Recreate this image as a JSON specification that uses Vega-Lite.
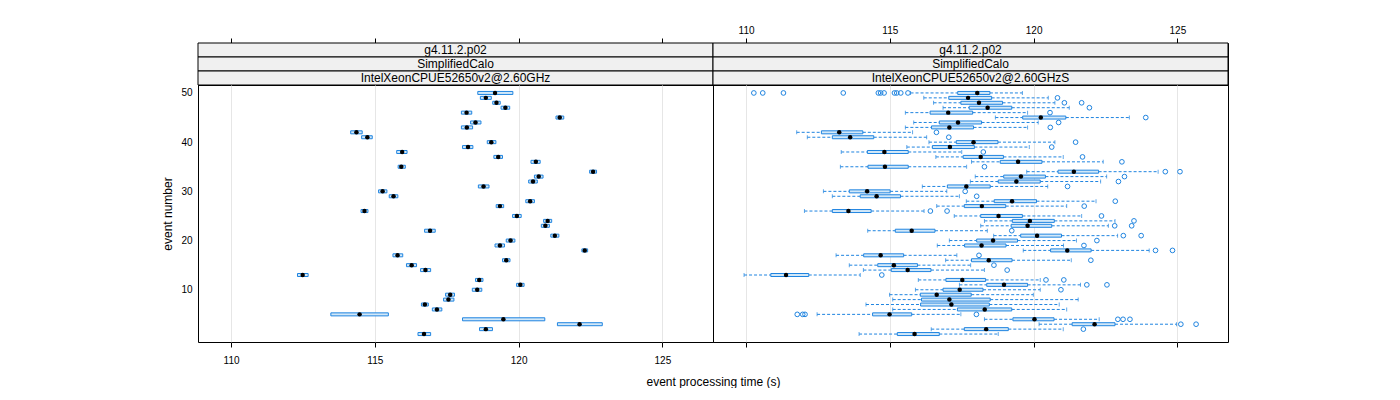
{
  "$schema": "https://vega.github.io/schema/vega-lite/v6.json",
  "padding": {"left": 161, "top": 24, "right": 0, "bottom": 0},
  "background": "white",
  "bounds": "flush",
  "spacing": 0,
  "config": {
    "font": "Liberation Sans",
    "view": {"stroke": "black", "strokeWidth": 1},
    "concat": {"spacing": 0},
    "axis": {"labelFont": "Liberation Sans", "titleFont": "Liberation Sans", "labelFontSize": 10, "titleFontSize": 12, "titleFontWeight": "normal", "labelColor": "black", "titleColor": "black", "tickColor": "black", "domain": false}
  },
  "datasets": {
    "strips": [
      {"panel": "L", "level": 1, "label": "g4.11.2.p02"},
      {"panel": "R", "level": 1, "label": "g4.11.2.p02"},
      {"panel": "L", "level": 2, "label": "SimplifiedCalo"},
      {"panel": "R", "level": 2, "label": "SimplifiedCalo"},
      {"panel": "L", "level": 3, "label": "IntelXeonCPUE52650v2@2.60GHz"},
      {"panel": "R", "level": 3, "label": "IntelXeonCPUE52650v2@2.60GHzS"}
    ],
    "statsL": [
      {"event": 50, "lo": 118.58, "q1": 118.58, "med": 119.18, "q3": 119.80, "hi": 119.80},
      {"event": 49, "lo": 118.67, "q1": 118.67, "med": 118.86, "q3": 119.05, "hi": 119.05},
      {"event": 48, "lo": 119.10, "q1": 119.10, "med": 119.23, "q3": 119.36, "hi": 119.36},
      {"event": 47, "lo": 119.39, "q1": 119.39, "med": 119.54, "q3": 119.69, "hi": 119.69},
      {"event": 46, "lo": 118.01, "q1": 118.01, "med": 118.19, "q3": 118.37, "hi": 118.37},
      {"event": 45, "lo": 121.30, "q1": 121.30, "med": 121.43, "q3": 121.57, "hi": 121.57},
      {"event": 44, "lo": 118.33, "q1": 118.33, "med": 118.50, "q3": 118.69, "hi": 118.69},
      {"event": 43, "lo": 118.01, "q1": 118.01, "med": 118.20, "q3": 118.40, "hi": 118.40},
      {"event": 42, "lo": 114.16, "q1": 114.16, "med": 114.36, "q3": 114.56, "hi": 114.56},
      {"event": 41, "lo": 114.54, "q1": 114.54, "med": 114.74, "q3": 114.91, "hi": 114.91},
      {"event": 40, "lo": 118.91, "q1": 118.91, "med": 119.05, "q3": 119.21, "hi": 119.21},
      {"event": 39, "lo": 118.05, "q1": 118.05, "med": 118.24, "q3": 118.41, "hi": 118.41},
      {"event": 38, "lo": 115.76, "q1": 115.76, "med": 115.95, "q3": 116.12, "hi": 116.12},
      {"event": 37, "lo": 119.14, "q1": 119.14, "med": 119.29, "q3": 119.44, "hi": 119.44},
      {"event": 36, "lo": 120.43, "q1": 120.43, "med": 120.60, "q3": 120.75, "hi": 120.75},
      {"event": 35, "lo": 115.81, "q1": 115.81, "med": 115.92, "q3": 116.06, "hi": 116.06},
      {"event": 34, "lo": 122.47, "q1": 122.47, "med": 122.59, "q3": 122.71, "hi": 122.71},
      {"event": 33, "lo": 120.55, "q1": 120.55, "med": 120.70, "q3": 120.85, "hi": 120.85},
      {"event": 32, "lo": 120.35, "q1": 120.35, "med": 120.50, "q3": 120.65, "hi": 120.65},
      {"event": 31, "lo": 118.60, "q1": 118.60, "med": 118.78, "q3": 118.97, "hi": 118.97},
      {"event": 30, "lo": 115.13, "q1": 115.13, "med": 115.27, "q3": 115.42, "hi": 115.42},
      {"event": 29, "lo": 115.50, "q1": 115.50, "med": 115.65, "q3": 115.80, "hi": 115.80},
      {"event": 28, "lo": 120.25, "q1": 120.25, "med": 120.40, "q3": 120.55, "hi": 120.55},
      {"event": 27, "lo": 119.22, "q1": 119.22, "med": 119.35, "q3": 119.48, "hi": 119.48},
      {"event": 26, "lo": 114.52, "q1": 114.52, "med": 114.64, "q3": 114.76, "hi": 114.76},
      {"event": 25, "lo": 119.79, "q1": 119.79, "med": 119.94, "q3": 120.09, "hi": 120.09},
      {"event": 24, "lo": 120.87, "q1": 120.87, "med": 121.01, "q3": 121.15, "hi": 121.15},
      {"event": 23, "lo": 120.79, "q1": 120.79, "med": 120.93, "q3": 121.07, "hi": 121.07},
      {"event": 22, "lo": 116.73, "q1": 116.73, "med": 116.92, "q3": 117.10, "hi": 117.10},
      {"event": 21, "lo": 121.12, "q1": 121.12, "med": 121.26, "q3": 121.40, "hi": 121.40},
      {"event": 20, "lo": 119.57, "q1": 119.57, "med": 119.72, "q3": 119.87, "hi": 119.87},
      {"event": 19, "lo": 119.18, "q1": 119.18, "med": 119.35, "q3": 119.51, "hi": 119.51},
      {"event": 18, "lo": 122.20, "q1": 122.20, "med": 122.30, "q3": 122.40, "hi": 122.40},
      {"event": 17, "lo": 115.63, "q1": 115.63, "med": 115.79, "q3": 115.97, "hi": 115.97},
      {"event": 16, "lo": 119.44, "q1": 119.44, "med": 119.57, "q3": 119.70, "hi": 119.70},
      {"event": 15, "lo": 116.10, "q1": 116.10, "med": 116.28, "q3": 116.45, "hi": 116.45},
      {"event": 14, "lo": 116.59, "q1": 116.59, "med": 116.76, "q3": 116.94, "hi": 116.94},
      {"event": 13, "lo": 112.31, "q1": 112.31, "med": 112.49, "q3": 112.68, "hi": 112.68},
      {"event": 12, "lo": 118.50, "q1": 118.50, "med": 118.63, "q3": 118.76, "hi": 118.76},
      {"event": 11, "lo": 119.93, "q1": 119.93, "med": 120.06, "q3": 120.19, "hi": 120.19},
      {"event": 10, "lo": 118.39, "q1": 118.39, "med": 118.56, "q3": 118.72, "hi": 118.72},
      {"event": 9, "lo": 117.46, "q1": 117.46, "med": 117.62, "q3": 117.77, "hi": 117.77},
      {"event": 8, "lo": 117.39, "q1": 117.39, "med": 117.56, "q3": 117.75, "hi": 117.75},
      {"event": 7, "lo": 116.62, "q1": 116.62, "med": 116.74, "q3": 116.86, "hi": 116.86},
      {"event": 6, "lo": 117.00, "q1": 117.00, "med": 117.16, "q3": 117.33, "hi": 117.33},
      {"event": 5, "lo": 113.47, "q1": 113.47, "med": 114.47, "q3": 115.47, "hi": 115.47},
      {"event": 4, "lo": 118.05, "q1": 118.05, "med": 119.47, "q3": 120.91, "hi": 120.91},
      {"event": 3, "lo": 121.35, "q1": 121.35, "med": 122.12, "q3": 122.91, "hi": 122.91},
      {"event": 2, "lo": 118.64, "q1": 118.64, "med": 118.86, "q3": 119.09, "hi": 119.09},
      {"event": 1, "lo": 116.50, "q1": 116.50, "med": 116.71, "q3": 116.94, "hi": 116.94}
    ],
    "statsR": [
      {"event": 50, "lo": 115.72, "q1": 117.36, "med": 118.04, "q3": 118.48, "hi": 119.61},
      {"event": 49, "lo": 116.18, "q1": 117.05, "med": 117.72, "q3": 118.54, "hi": 120.51},
      {"event": 48, "lo": 116.52, "q1": 117.47, "med": 118.10, "q3": 118.92, "hi": 120.74},
      {"event": 47, "lo": 116.85, "q1": 117.76, "med": 118.40, "q3": 119.24, "hi": 121.24},
      {"event": 46, "lo": 115.54, "q1": 116.40, "med": 117.03, "q3": 117.88, "hi": 119.79},
      {"event": 45, "lo": 118.67, "q1": 119.62, "med": 120.25, "q3": 121.12, "hi": 123.33},
      {"event": 44, "lo": 115.83, "q1": 116.72, "med": 117.37, "q3": 118.19, "hi": 120.16},
      {"event": 43, "lo": 115.54, "q1": 116.45, "med": 117.07, "q3": 117.91, "hi": 119.79},
      {"event": 42, "lo": 111.76, "q1": 112.62, "med": 113.24, "q3": 114.06, "hi": 115.79},
      {"event": 41, "lo": 112.13, "q1": 113.00, "med": 113.62, "q3": 114.44, "hi": 116.28},
      {"event": 40, "lo": 116.36, "q1": 117.31, "med": 117.91, "q3": 118.76, "hi": 120.74},
      {"event": 39, "lo": 115.59, "q1": 116.48, "med": 117.09, "q3": 117.94, "hi": 119.85},
      {"event": 38, "lo": 113.31, "q1": 114.22, "med": 114.81, "q3": 115.64, "hi": 117.50},
      {"event": 37, "lo": 116.60, "q1": 117.55, "med": 118.16, "q3": 118.95, "hi": 121.03},
      {"event": 36, "lo": 117.84, "q1": 118.84, "med": 119.46, "q3": 120.29, "hi": 122.42},
      {"event": 35, "lo": 113.28, "q1": 114.24, "med": 114.83, "q3": 115.64, "hi": 117.67},
      {"event": 34, "lo": 119.76, "q1": 120.85, "med": 121.40, "q3": 122.26, "hi": 124.33},
      {"event": 33, "lo": 117.97, "q1": 118.96, "med": 119.56, "q3": 120.41, "hi": 122.54},
      {"event": 32, "lo": 117.80, "q1": 118.77, "med": 119.40, "q3": 120.23, "hi": 122.33},
      {"event": 31, "lo": 116.13, "q1": 117.00, "med": 117.66, "q3": 118.49, "hi": 120.49},
      {"event": 30, "lo": 112.69, "q1": 113.59, "med": 114.21, "q3": 115.01, "hi": 116.98},
      {"event": 29, "lo": 113.00, "q1": 113.97, "med": 114.54, "q3": 115.37, "hi": 117.42},
      {"event": 28, "lo": 117.66, "q1": 118.63, "med": 119.25, "q3": 120.10, "hi": 122.17},
      {"event": 27, "lo": 116.63, "q1": 117.59, "med": 118.20, "q3": 119.03, "hi": 121.15},
      {"event": 26, "lo": 112.03, "q1": 113.00, "med": 113.56, "q3": 114.35, "hi": 116.19},
      {"event": 25, "lo": 117.24, "q1": 118.16, "med": 118.78, "q3": 119.61, "hi": 121.67},
      {"event": 24, "lo": 118.29, "q1": 119.26, "med": 119.87, "q3": 120.72, "hi": 122.83},
      {"event": 23, "lo": 118.16, "q1": 119.22, "med": 119.79, "q3": 120.63, "hi": 122.60},
      {"event": 22, "lo": 114.23, "q1": 115.19, "med": 115.76, "q3": 116.57, "hi": 118.39},
      {"event": 21, "lo": 118.61, "q1": 119.55, "med": 120.12, "q3": 120.97, "hi": 122.92},
      {"event": 20, "lo": 117.07, "q1": 118.02, "med": 118.59, "q3": 119.44, "hi": 121.49},
      {"event": 19, "lo": 116.65, "q1": 117.60, "med": 118.19, "q3": 119.04, "hi": 121.04},
      {"event": 18, "lo": 119.64, "q1": 120.59, "med": 121.17, "q3": 122.00, "hi": 124.02},
      {"event": 17, "lo": 113.13, "q1": 114.09, "med": 114.68, "q3": 115.48, "hi": 117.33},
      {"event": 16, "lo": 116.94, "q1": 117.84, "med": 118.44, "q3": 119.25, "hi": 121.31},
      {"event": 15, "lo": 113.59, "q1": 114.58, "med": 115.14, "q3": 115.96, "hi": 117.81},
      {"event": 14, "lo": 114.08, "q1": 115.05, "med": 115.62, "q3": 116.43, "hi": 118.29},
      {"event": 13, "lo": 109.93, "q1": 110.86, "med": 111.39, "q3": 112.18, "hi": 113.97},
      {"event": 12, "lo": 115.99, "q1": 116.95, "med": 117.52, "q3": 118.33, "hi": 120.23},
      {"event": 11, "lo": 117.42, "q1": 118.37, "med": 118.97, "q3": 119.79, "hi": 121.63},
      {"event": 10, "lo": 115.89, "q1": 116.85, "med": 117.43, "q3": 118.24, "hi": 120.23},
      {"event": 9, "lo": 114.99, "q1": 116.06, "med": 116.63, "q3": 117.83, "hi": 119.99},
      {"event": 8, "lo": 115.10, "q1": 116.10, "med": 117.07, "q3": 118.49, "hi": 121.55},
      {"event": 7, "lo": 114.17, "q1": 116.07, "med": 117.14, "q3": 118.46, "hi": 120.89},
      {"event": 6, "lo": 115.10, "q1": 117.35, "med": 118.30, "q3": 119.24, "hi": 121.15},
      {"event": 5, "lo": 112.47, "q1": 114.40, "med": 114.99, "q3": 115.76, "hi": 117.47},
      {"event": 4, "lo": 118.29, "q1": 119.28, "med": 120.03, "q3": 120.71, "hi": 122.28},
      {"event": 3, "lo": 120.19, "q1": 121.34, "med": 122.12, "q3": 122.83, "hi": 124.97},
      {"event": 2, "lo": 116.44, "q1": 117.59, "med": 118.35, "q3": 119.12, "hi": 121.03},
      {"event": 1, "lo": 113.93, "q1": 115.26, "med": 115.86, "q3": 116.72, "hi": 118.77}
    ],
    "outR": [
      {"event": 50, "time": 110.27}, {"event": 50, "time": 110.58}, {"event": 50, "time": 111.30}, {"event": 50, "time": 113.38},
      {"event": 50, "time": 114.60}, {"event": 50, "time": 114.68}, {"event": 50, "time": 114.80}, {"event": 50, "time": 115.16},
      {"event": 50, "time": 115.24}, {"event": 50, "time": 115.38}, {"event": 50, "time": 115.63},
      {"event": 49, "time": 120.83},
      {"event": 48, "time": 121.07}, {"event": 48, "time": 121.67},
      {"event": 47, "time": 121.94},
      {"event": 46, "time": 120.57},
      {"event": 45, "time": 123.90},
      {"event": 44, "time": 120.87},
      {"event": 43, "time": 120.58},
      {"event": 42, "time": 116.62},
      {"event": 41, "time": 117.05},
      {"event": 40, "time": 121.46},
      {"event": 39, "time": 120.63},
      {"event": 38, "time": 118.25},
      {"event": 37, "time": 121.70},
      {"event": 36, "time": 123.07},
      {"event": 35, "time": 118.29},
      {"event": 34, "time": 124.58}, {"event": 34, "time": 125.09},
      {"event": 33, "time": 123.16},
      {"event": 32, "time": 122.95},
      {"event": 31, "time": 121.18},
      {"event": 30, "time": 117.62},
      {"event": 29, "time": 118.02},
      {"event": 28, "time": 122.84},
      {"event": 27, "time": 121.76},
      {"event": 26, "time": 116.41}, {"event": 26, "time": 116.99},
      {"event": 25, "time": 122.36},
      {"event": 24, "time": 123.49},
      {"event": 23, "time": 122.82}, {"event": 23, "time": 123.41},
      {"event": 22, "time": 119.24},
      {"event": 21, "time": 123.12}, {"event": 21, "time": 123.74},
      {"event": 20, "time": 122.20},
      {"event": 19, "time": 121.75},
      {"event": 18, "time": 124.24}, {"event": 18, "time": 124.83},
      {"event": 17, "time": 118.10},
      {"event": 16, "time": 121.99},
      {"event": 15, "time": 118.62},
      {"event": 14, "time": 119.08},
      {"event": 13, "time": 114.72},
      {"event": 12, "time": 120.43}, {"event": 12, "time": 121.05},
      {"event": 11, "time": 121.85}, {"event": 11, "time": 122.55},
      {"event": 10, "time": 120.95},
      {"event": 5, "time": 111.78}, {"event": 5, "time": 111.97}, {"event": 5, "time": 112.05}, {"event": 5, "time": 118.01},
      {"event": 4, "time": 122.93}, {"event": 4, "time": 123.11}, {"event": 4, "time": 123.35},
      {"event": 3, "time": 125.12}, {"event": 3, "time": 125.65},
      {"event": 2, "time": 121.73}
    ]
  },
  "columns": 2,
  "concat": [
    {
      "width": 515, "height": 14,
      "data": {"name": "strips"},
      "transform": [{"filter": "datum.panel == 'L' && datum.level == 1"}],
      "layer": [
        {"mark": {"type": "rect", "fill": "#f0f0f0", "stroke": "black", "strokeWidth": 1},
         "encoding": {
           "x": {"datum": 108.85, "type": "quantitative", "scale": {"domain": [108.85, 126.76], "nice": false, "zero": false},
                 "axis": {"orient": "top", "values": [110, 115, 120, 125], "labels": false, "ticks": true, "tickSize": 5, "grid": false, "title": null}},
           "x2": {"datum": 126.76}, "y": {"value": 0}, "y2": {"value": "height"}}},
        {"mark": {"type": "text", "fontSize": 12, "baseline": "middle", "align": "center", "color": "black"},
         "encoding": {"text": {"field": "label"}, "x": {"datum": 117.805, "type": "quantitative"}, "y": {"value": 7}}}
      ]
    },
    {
      "width": 515, "height": 14,
      "data": {"name": "strips"},
      "transform": [{"filter": "datum.panel == 'R' && datum.level == 1"}],
      "layer": [
        {"mark": {"type": "rect", "fill": "#f0f0f0", "stroke": "black", "strokeWidth": 1},
         "encoding": {
           "x": {"datum": 108.85, "type": "quantitative", "scale": {"domain": [108.85, 126.76], "nice": false, "zero": false},
                 "axis": {"orient": "top", "values": [110, 115, 120, 125], "labels": true, "ticks": true, "tickSize": 5, "labelPadding": 3, "grid": false, "title": null}},
           "x2": {"datum": 126.76}, "y": {"value": 0}, "y2": {"value": "height"}}},
        {"mark": {"type": "text", "fontSize": 12, "baseline": "middle", "align": "center", "color": "black"},
         "encoding": {"text": {"field": "label"}, "x": {"datum": 117.805, "type": "quantitative"}, "y": {"value": 7}}}
      ]
    },
    {
      "width": 515, "height": 14,
      "data": {"name": "strips"},
      "transform": [{"filter": "datum.panel == 'L' && datum.level == 2"}],
      "layer": [
        {"mark": {"type": "rect", "fill": "#f0f0f0", "stroke": "black", "strokeWidth": 1},
         "encoding": {"x": {"value": 0}, "x2": {"value": "width"}, "y": {"value": 0}, "y2": {"value": "height"}}},
        {"mark": {"type": "text", "fontSize": 12, "baseline": "middle", "align": "center", "color": "black", "x": 257.5},
         "encoding": {"text": {"field": "label"}, "y": {"value": 7}}}
      ]
    },
    {
      "width": 515, "height": 14,
      "data": {"name": "strips"},
      "transform": [{"filter": "datum.panel == 'R' && datum.level == 2"}],
      "layer": [
        {"mark": {"type": "rect", "fill": "#f0f0f0", "stroke": "black", "strokeWidth": 1},
         "encoding": {"x": {"value": 0}, "x2": {"value": "width"}, "y": {"value": 0}, "y2": {"value": "height"}}},
        {"mark": {"type": "text", "fontSize": 12, "baseline": "middle", "align": "center", "color": "black", "x": 257.5},
         "encoding": {"text": {"field": "label"}, "y": {"value": 7}}}
      ]
    },
    {
      "width": 515, "height": 14,
      "data": {"name": "strips"},
      "transform": [{"filter": "datum.panel == 'L' && datum.level == 3"}],
      "layer": [
        {"mark": {"type": "rect", "fill": "#f0f0f0", "stroke": "black", "strokeWidth": 1},
         "encoding": {"x": {"value": 0}, "x2": {"value": "width"}, "y": {"value": 0}, "y2": {"value": "height"}}},
        {"mark": {"type": "text", "fontSize": 12, "baseline": "middle", "align": "center", "color": "black", "x": 257.5},
         "encoding": {"text": {"field": "label"}, "y": {"value": 7}}}
      ]
    },
    {
      "width": 515, "height": 14,
      "data": {"name": "strips"},
      "transform": [{"filter": "datum.panel == 'R' && datum.level == 3"}],
      "layer": [
        {"mark": {"type": "rect", "fill": "#f0f0f0", "stroke": "black", "strokeWidth": 1},
         "encoding": {"x": {"value": 0}, "x2": {"value": "width"}, "y": {"value": 0}, "y2": {"value": "height"}}},
        {"mark": {"type": "text", "fontSize": 12, "baseline": "middle", "align": "center", "color": "black", "x": 257.5},
         "encoding": {"text": {"field": "label"}, "y": {"value": 7}}}
      ]
    },
    {
      "width": 515, "height": 257,
      "data": {"name": "statsL"},
      "encoding": {
        "y": {"field": "event", "type": "quantitative", "scale": {"domain": [0.4, 50.6], "nice": false, "zero": false},
              "axis": {"values": [10, 20, 30, 40, 50], "title": "event number", "tickSize": 0, "labelPadding": 6, "grid": false, "titlePadding": 6}}
      },
      "layer": [
        {"mark": {"type": "rule", "color": "#1f84e0", "strokeDash": [3, 2]},
         "encoding": {"x": {"field": "lo", "type": "quantitative", "scale": {"domain": [108.85, 126.76], "nice": false, "zero": false},
                            "axis": {"values": [110, 115, 120, 125], "tickSize": 5, "labelPadding": 8, "grid": true, "gridColor": "#e6e6e6",
                                     "title": "event processing time (s)", "titleX": 515, "titleY": 39, "titleBaseline": "middle", "titleAlign": "center"}},
                      "x2": {"field": "q1"}}},
        {"mark": {"type": "rule", "color": "#1f84e0", "strokeDash": [3, 2]},
         "encoding": {"x": {"field": "q3", "type": "quantitative"}, "x2": {"field": "hi"}}},
        {"mark": {"type": "bar", "height": 3, "fill": "#d2e8f8", "stroke": "#1f84e0", "strokeWidth": 1},
         "encoding": {"x": {"field": "q1", "type": "quantitative"}, "x2": {"field": "q3"}}},
        {"mark": {"type": "circle", "color": "black", "opacity": 1, "size": 20},
         "encoding": {"x": {"field": "med", "type": "quantitative"}}}
      ]
    },
    {
      "width": 515, "height": 257,
      "encoding": {
        "y": {"field": "event", "type": "quantitative", "scale": {"domain": [0.4, 50.6], "nice": false, "zero": false}, "axis": null}
      },
      "layer": [
        {"data": {"name": "statsR"},
         "mark": {"type": "rule", "color": "#1f84e0", "strokeDash": [3, 2]},
         "encoding": {"x": {"field": "lo", "type": "quantitative", "scale": {"domain": [108.85, 126.76], "nice": false, "zero": false},
                            "axis": {"values": [110, 115, 120, 125], "tickSize": 5, "labels": false, "grid": true, "gridColor": "#e6e6e6", "title": null}},
                      "x2": {"field": "q1"}}},
        {"data": {"name": "statsR"},
         "mark": {"type": "rule", "color": "#1f84e0", "strokeDash": [3, 2]},
         "encoding": {"x": {"field": "q3", "type": "quantitative"}, "x2": {"field": "hi"}}},
        {"data": {"name": "statsR"},
         "mark": {"type": "tick", "orient": "vertical", "color": "#1f84e0", "size": 4, "thickness": 1},
         "encoding": {"x": {"field": "lo", "type": "quantitative"}}},
        {"data": {"name": "statsR"},
         "mark": {"type": "tick", "orient": "vertical", "color": "#1f84e0", "size": 4, "thickness": 1},
         "encoding": {"x": {"field": "hi", "type": "quantitative"}}},
        {"data": {"name": "statsR"},
         "mark": {"type": "bar", "height": 3, "fill": "#d2e8f8", "stroke": "#1f84e0", "strokeWidth": 1},
         "encoding": {"x": {"field": "q1", "type": "quantitative"}, "x2": {"field": "q3"}}},
        {"data": {"name": "statsR"},
         "mark": {"type": "circle", "color": "black", "opacity": 1, "size": 20},
         "encoding": {"x": {"field": "med", "type": "quantitative"}}},
        {"data": {"name": "outR"},
         "mark": {"type": "point", "shape": "circle", "filled": false, "color": "#1f84e0", "size": 22, "strokeWidth": 1, "opacity": 1},
         "encoding": {"x": {"field": "time", "type": "quantitative"}}}
      ]
    }
  ]
}
